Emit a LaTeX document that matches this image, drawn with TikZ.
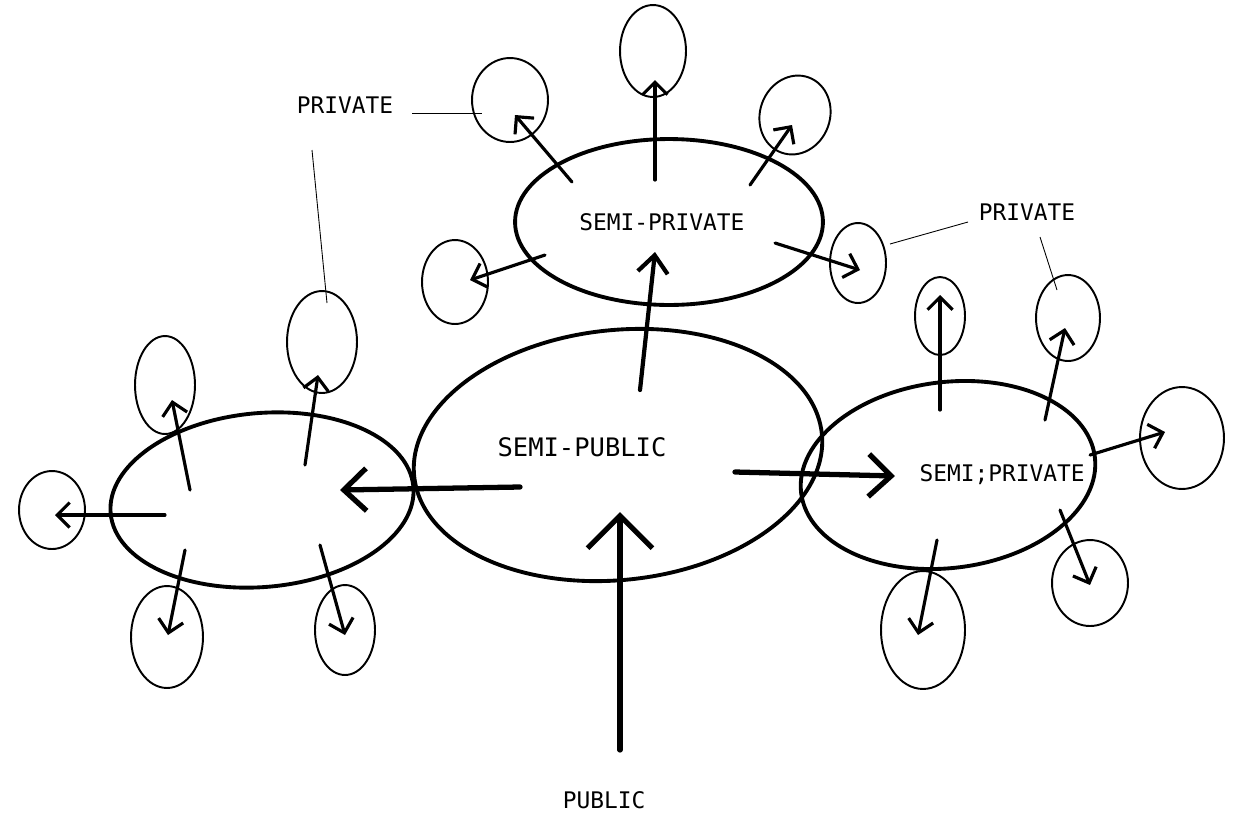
\documentclass[tikz,border=0pt]{standalone}
\usepackage{fontspec}
\setmonofont{DejaVu Sans Mono}
\usetikzlibrary{shapes.geometric,arrows.meta}
\begin{document}
\begin{tikzpicture}[x=0.02cm,y=-0.02cm,
  zone/.style 2 args={ellipse, draw, line width=2.2pt, minimum width=#1*0.04cm, minimum height=#2*0.04cm, inner sep=0pt},
  priv/.style 2 args={ellipse, draw, line width=1.1pt, minimum width=#1*0.04cm, minimum height=#2*0.04cm, inner sep=0pt},
  arr/.style={line width=1.8pt, line cap=round, -{Straight Barb[length=2.5mm,width=5mm,line width=1.8pt]}},
  midarr/.style={line width=2.4pt, line cap=round, -{Straight Barb[length=3.5mm,width=6mm,line width=2.4pt]}},
  bigarr/.style={line width=3pt, line cap=round, -{Straight Barb[length=4.5mm,width=8.5mm,line width=3pt]}},
  pubarr/.style={line width=3pt, line cap=round, -{Straight Barb[length=6.5mm,width=13mm,line width=3pt]}},
  lbl/.style={font=\ttfamily\fontsize{13}{13}\selectfont},
  leader/.style={line width=0.5pt}]
\useasboundingbox (0,0) rectangle (1241,816);
% zones
\node[zone={205}{125}, rotate=6] (pub) at (618,455) {};
\node[zone={154}{83}] (top) at (669,222) {};
\node[zone={152}{87}, rotate=5] (left) at (262,500) {};
\node[zone={148}{93}, rotate=7] (right) at (948,475) {};
% private circles
\node[priv={38}{42}] (p1) at (510,100) {};
\node[priv={33}{46}] (p2) at (653,51) {};
\node[priv={35}{40}, rotate=-20] (p3) at (795,115) {};
\node[priv={28}{40}] (p4) at (858,263) {};
\node[priv={33}{42}] (p5) at (455,282) {};
\node[priv={30}{49}] (p6) at (165,385) {};
\node[priv={35}{51}] (p7) at (322,342) {};
\node[priv={33}{39}] (p8) at (52,510) {};
\node[priv={36}{51}] (p9) at (167,637) {};
\node[priv={30}{45}] (p10) at (345,630) {};
\node[priv={25}{39}] (p11) at (940,316) {};
\node[priv={32}{43}] (p12) at (1068,318) {};
\node[priv={42}{51}] (p13) at (1182,438) {};
\node[priv={42}{59}] (p14) at (923,630) {};
\node[priv={38}{43}] (p15) at (1090,583) {};
% labels
\node[lbl, font=\ttfamily\fontsize{14.5}{14.5}\selectfont] (tpub) at (582,447) {SEMI-PUBLIC};
\node[lbl] (ttop) at (662,222) {SEMI-PRIVATE};
\node[lbl] (tright) at (1002,475) {SEMI;PRIVATE};
\node[lbl] (tpublic) at (604,800) {PUBLIC};
\node[lbl] (tpriv1) at (345,105) {PRIVATE};
\node[lbl] (tpriv2) at (1027,212) {PRIVATE};
% arrow coordinates
\coordinate (a1s) at (572,182); \coordinate (a1e) at (515,115);
\coordinate (a2s) at (655,180); \coordinate (a2e) at (655,80);
\coordinate (a3s) at (750,185); \coordinate (a3e) at (792,125);
\coordinate (a4s) at (775,243); \coordinate (a4e) at (860,270);
\coordinate (a5s) at (545,255); \coordinate (a5e) at (470,280);
\coordinate (b1s) at (190,490); \coordinate (b1e) at (172,400);
\coordinate (b2s) at (305,465); \coordinate (b2e) at (318,375);
\coordinate (b3s) at (165,515); \coordinate (b3e) at (55,515);
\coordinate (b4s) at (185,550); \coordinate (b4e) at (168,635);
\coordinate (b5s) at (320,545); \coordinate (b5e) at (345,635);
\coordinate (c1s) at (940,410); \coordinate (c1e) at (940,295);
\coordinate (c2s) at (1045,420); \coordinate (c2e) at (1065,328);
\coordinate (c3s) at (1090,455); \coordinate (c3e) at (1165,432);
\coordinate (c4s) at (937,540); \coordinate (c4e) at (918,635);
\coordinate (c5s) at (1060,510); \coordinate (c5e) at (1090,585);
\coordinate (ms) at (640,390); \coordinate (me) at (655,252);
\coordinate (ls) at (520,487); \coordinate (le) at (340,490);
\coordinate (rs) at (735,472); \coordinate (re) at (895,476);
\coordinate (us) at (620,750); \coordinate (ue) at (620,512);
% arrows
\foreach \a in {a1,a2,a3,a4,a5,b1,b2,b3,b4,b5,c1,c2,c3,c4,c5}
  \draw[arr] (\a s) -- (\a e);
\draw[midarr] (ms) -- (me);
\draw[bigarr] (ls) -- (le);
\draw[bigarr] (rs) -- (re);
\draw[pubarr] (us) -- (ue);
% leaders
\coordinate (l1a) at (412,113); \coordinate (l1b) at (482,113);
\coordinate (l2a) at (312,150); \coordinate (l2b) at (327,303);
\coordinate (l3a) at (890,244); \coordinate (l3b) at (968,222);
\coordinate (l4a) at (1040,237); \coordinate (l4b) at (1057,290);
\draw[leader] (l1a) -- (l1b);
\draw[leader] (l2a) -- (l2b);
\draw[leader] (l3a) -- (l3b);
\draw[leader] (l4a) -- (l4b);
\end{tikzpicture}
\end{document}
